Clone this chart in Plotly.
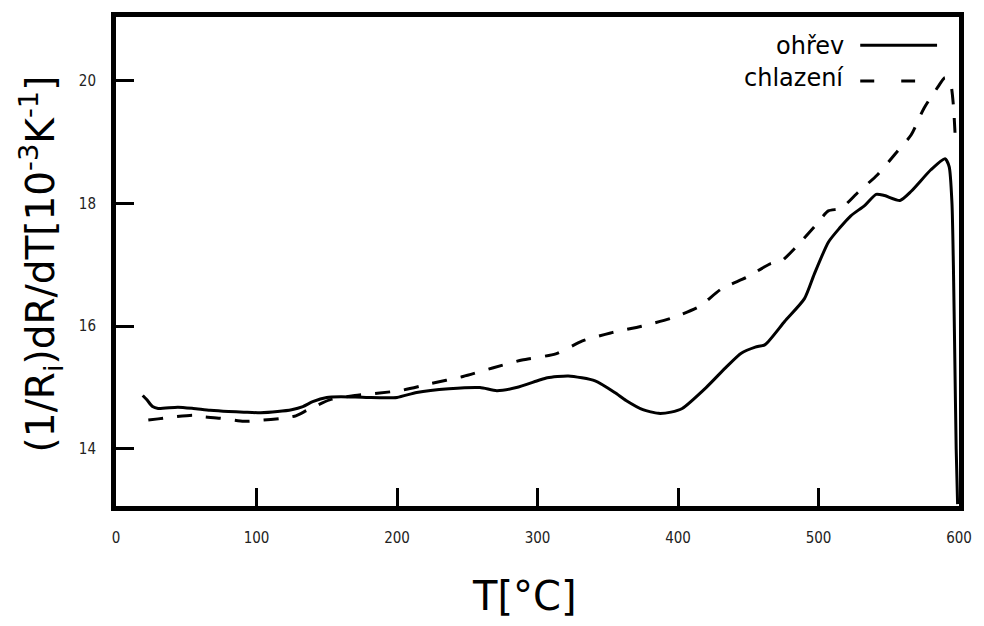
import plotly.graph_objects as go

# Heating (ohřev) curve
heat_T = [19, 22, 26, 30, 44, 55, 67, 80, 91, 103, 115, 125, 133, 140, 150, 160, 178, 200,
          214, 237, 259, 271, 285, 301, 307, 322, 341, 355, 363, 375, 386, 395, 403, 420,
          435, 445, 455, 462, 476, 490, 497, 507, 515, 523, 533, 541, 547, 558, 566, 580,
          590, 593, 595, 596, 597, 598, 599]
heat_Y = [14.87, 14.80, 14.69, 14.66, 14.68, 14.66, 14.63, 14.61, 14.60, 14.59, 14.61, 14.64,
          14.69, 14.77, 14.84, 14.85, 14.84, 14.84, 14.92, 14.98, 15.00, 14.95, 15.00, 15.12,
          15.16, 15.19, 15.11, 14.92, 14.79, 14.64, 14.58, 14.60, 14.66, 15.00, 15.35, 15.56,
          15.66, 15.70, 16.08, 16.45, 16.85, 17.37, 17.60, 17.80, 17.97, 18.15, 18.13, 18.05,
          18.20, 18.55, 18.73, 18.60, 18.00, 17.00, 15.50, 14.00, 13.10]

# Cooling (chlazení) curve
cool_T = [23, 30, 40, 55, 60, 74, 91, 105, 118, 128, 136, 152, 170, 202, 223, 247, 268, 289,
          313, 332, 352, 374, 395, 415, 431, 449, 466, 473, 484, 497, 507, 516, 528, 542, 555,
          566, 575, 585, 590, 594, 596, 597.5]
cool_Y = [14.47, 14.49, 14.52, 14.55, 14.53, 14.50, 14.45, 14.47, 14.50, 14.54, 14.63, 14.80,
          14.87, 14.95, 15.06, 15.18, 15.32, 15.45, 15.55, 15.76, 15.89, 16.00, 16.13, 16.32,
          16.61, 16.80, 17.02, 17.05, 17.29, 17.62, 17.88, 17.92, 18.18, 18.47, 18.82, 19.12,
          19.55, 19.90, 20.05, 19.95, 19.60, 19.00]

x_ticks = [0, 100, 200, 300, 400, 500, 600]
y_ticks = [14, 16, 18, 20]

W, H = 984, 626
L, R, T, B = 116, 961, 12.5, 506


def px(x):
    return (x - L) / (R - L)


def py(y):
    return (B - y) / (B - T)


fig = go.Figure()
fig.add_trace(go.Scatter(x=heat_T, y=heat_Y, mode="lines", name="ohřev",
                         line=dict(color="black", width=3, shape="spline", smoothing=0.6)))
fig.add_trace(go.Scatter(x=cool_T, y=cool_Y, mode="lines", name="chlazení",
                         line=dict(color="black", width=3, dash="15px,14px",
                                   shape="spline", smoothing=0.6)))

tickfont = dict(family="DejaVu Sans Condensed, DejaVu Sans, sans-serif", size=15, color="#222")
axis_common = dict(showline=True, linewidth=5, linecolor="black", mirror=True,
                   ticks="inside", ticklen=18, tickwidth=3, tickcolor="black",
                   showgrid=False, zeroline=False, tickfont=tickfont)

fig.update_xaxes(range=[0, 600], tickvals=x_ticks, ticklabelstandoff=14, **axis_common)
fig.update_yaxes(range=[13.07, 21.04], tickvals=y_ticks, ticklabelstandoff=12, **axis_common)

annotations = [
    dict(text="T[°C]", x=px(525), y=py(597), xref="paper", yref="paper",
         showarrow=False, xanchor="center", yanchor="middle",
         font=dict(family="DejaVu Sans", size=40, color="black")),
    dict(text="(1/R<sub>i</sub>)dR/dT[10<sup>-3</sup>K<sup>-1</sup>]", x=px(41), y=py(262),
         xref="paper", yref="paper", showarrow=False, textangle=-90,
         xanchor="center", yanchor="middle",
         font=dict(family="DejaVu Sans", size=39, color="black")),
    dict(text="ohřev", x=px(848), y=py(42), xref="paper", yref="paper", showarrow=False,
         xanchor="right", yanchor="middle",
         font=dict(family="DejaVu Sans", size=24, color="black")),
    dict(text="chlazení", x=px(848), y=py(74), xref="paper", yref="paper", showarrow=False,
         xanchor="right", yanchor="middle",
         font=dict(family="DejaVu Sans", size=24, color="black")),
]

shapes = [
    dict(type="line", xref="paper", yref="paper", x0=px(862), x1=px(939), y0=py(41), y1=py(41),
         line=dict(color="black", width=3)),
    dict(type="line", xref="paper", yref="paper", x0=px(862), x1=px(917), y0=py(77), y1=py(77),
         line=dict(color="black", width=3, dash="14px,27px")),
]

fig.update_layout(width=W, height=H, margin=dict(l=L, r=W - R, t=T, b=H - B),
                  paper_bgcolor="white", plot_bgcolor="white", showlegend=False,
                  annotations=annotations, shapes=shapes)

fig.write_html("out.html")
